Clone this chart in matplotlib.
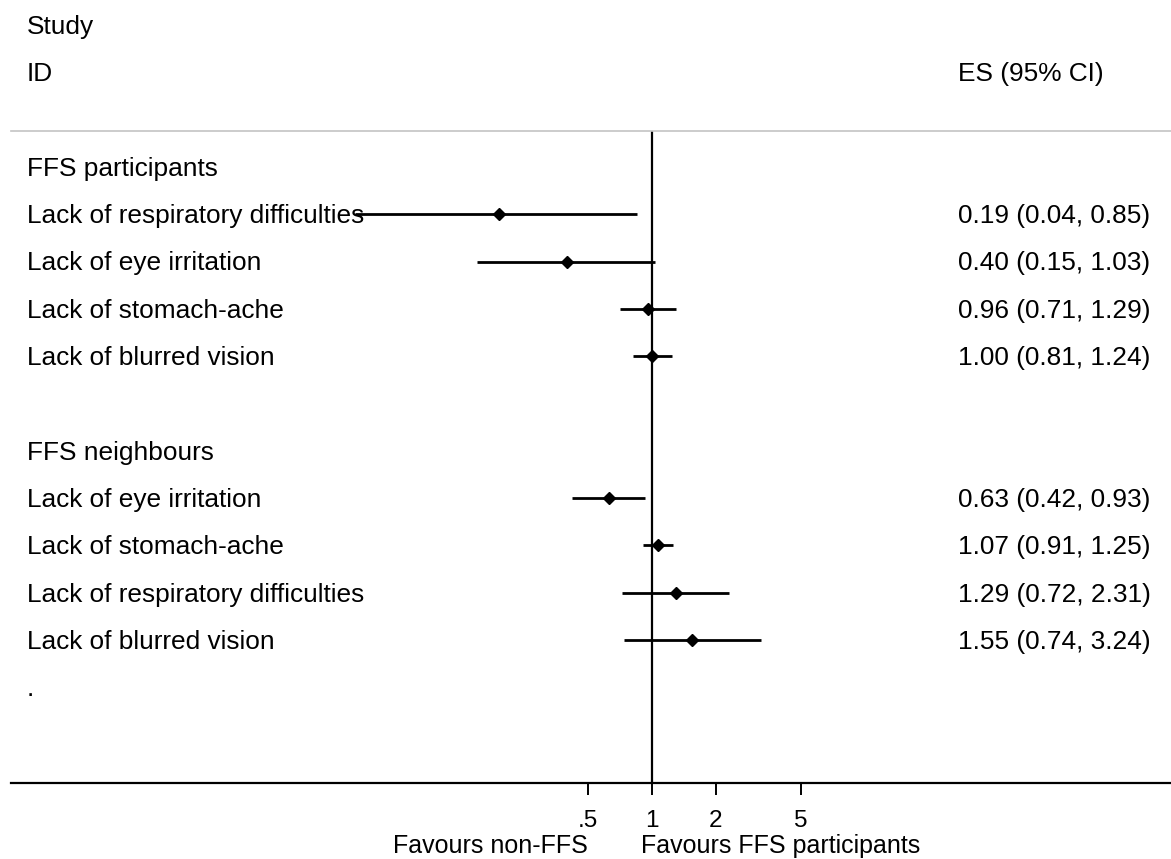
#!/usr/bin/env python3
# -*- coding: utf-8 -*-

"""
Forest plot: FFS participants and FFS neighbours (odds ratios, log scale).
"""

import numpy as np
import matplotlib
matplotlib.use("Agg")
from matplotlib import pyplot as plt
from matplotlib import transforms

plt.rcParams['font.family'] = ['Liberation Sans', 'DejaVu Sans']

# DATA ########################################################################

group_names = ["FFS participants", "FFS neighbours"]

part_labels = ["Lack of respiratory difficulties", "Lack of eye irritation",
               "Lack of stomach-ache", "Lack of blurred vision"]
part_es = [0.19, 0.40, 0.96, 1.00]
part_lo = [0.04, 0.15, 0.71, 0.81]
part_hi = [0.85, 1.03, 1.29, 1.24]

neigh_labels = ["Lack of eye irritation", "Lack of stomach-ache",
                "Lack of respiratory difficulties", "Lack of blurred vision"]
neigh_es = [0.63, 1.07, 1.29, 1.55]
neigh_lo = [0.42, 0.91, 0.72, 0.74]
neigh_hi = [0.93, 1.25, 2.31, 3.24]

xticks = [0.5, 1, 2, 5]
xtick_labels = [".5", "1", "2", "5"]

# ROWS ########################################################################

# row index (0 = "Study" header line)
part_rows = [4, 5, 6, 7]
neigh_rows = [10, 11, 12, 13]
group_rows = [3, 9]

# PLOT ########################################################################

W, H = 1171, 859
fig = plt.figure(figsize=(W / 100, H / 100), dpi=100)

# axes spans from the grey top rule to the black bottom rule
left_px, right_px, top_px, bot_px = 11, 1171, 131, 783
ax = fig.add_axes([left_px / W, (H - bot_px) / H,
                   (right_px - left_px) / W, (bot_px - top_px) / H])

# pixel <-> data: row k at y = 25 + 47.3 k, x = 652 + 64 log2(v)
row_h = 47.3
ax.set_ylim((bot_px - 25) / row_h, (top_px - 25) / row_h)
ax.set_xscale("log", base=2)
ax.set_xlim(2 ** ((left_px - 652) / 64.), 2 ** ((right_px - 652) / 64.))

fs = 18.9
ink = "black"

# null line
ax.axvline(1, color=ink, lw=1.6, zorder=1)

# CIs and point estimates
for rows, es, lo, hi in [(part_rows, part_es, part_lo, part_hi),
                         (neigh_rows, neigh_es, neigh_lo, neigh_hi)]:
    es = np.array(es)
    ax.hlines(rows, lo, hi, color=ink, lw=2.0, zorder=2)
    ax.plot(es, rows, ls="none", marker="D", ms=6, color=ink, zorder=3)

# text columns (x in axes fraction, y in rows)
trans = transforms.blended_transform_factory(ax.transAxes, ax.transData)
x_lab = (27 - left_px) / (right_px - left_px)
x_val = (958 - left_px) / (right_px - left_px)
base = 0.19  # baseline offset below row centre

def put(x, row, s, **kw):
    ax.text(x, row + base, s, transform=trans, fontsize=fs, va="baseline",
            ha="left", clip_on=False, zorder=4, **kw)

put(x_lab, 0, "Study")
put(x_lab, 1, "ID")
put(x_val, 1, "ES (95% CI)")

for name, row in zip(group_names, group_rows):
    put(x_lab, row, name)

for labels, rows, es, lo, hi in [
        (part_labels, part_rows, part_es, part_lo, part_hi),
        (neigh_labels, neigh_rows, neigh_es, neigh_lo, neigh_hi)]:
    for lab, r, e, l, h in zip(labels, rows, es, lo, hi):
        put(x_lab, r, lab)
        put(x_val, r, "{:.2f} ({:.2f}, {:.2f})".format(e, l, h))

put(x_lab, 14, ".")

# axes styling
for side in ["left", "right"]:
    ax.spines[side].set_visible(False)
ax.spines["top"].set_color("#c4c4c4")
ax.spines["top"].set_linewidth(1.2)
ax.spines["bottom"].set_color(ink)
ax.spines["bottom"].set_linewidth(1.6)

ax.set_yticks([])
ax.set_xticks(xticks)
ax.set_xticklabels(xtick_labels)
ax.xaxis.set_minor_locator(matplotlib.ticker.NullLocator())
ax.tick_params(axis="x", length=8.5, width=1.4, pad=11, labelsize=17.5,
               color=ink)

# favours labels under the axis
fav_y = (853 - 25) / row_h
ax.text(0.5, fav_y, "Favours non-FFS", fontsize=18, ha="right",
        va="baseline", clip_on=False)
ax.text(0.89, fav_y, "Favours FFS participants", fontsize=18, ha="left",
        va="baseline", clip_on=False)

fig.savefig("out.png", dpi=100)
